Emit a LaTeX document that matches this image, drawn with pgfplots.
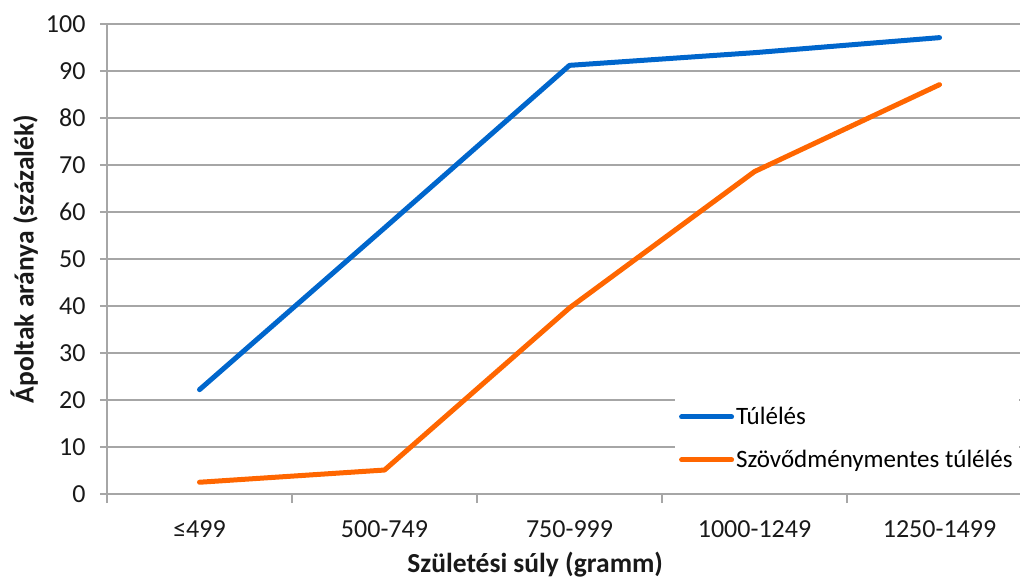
\documentclass[border=0pt]{standalone}
\usepackage{pgfplots}
\pgfplotsset{compat=1.18}
\usepackage{fontspec}
\setmainfont{Carlito}
\definecolor{gridgray}{RGB}{166,166,166}
\definecolor{sblue}{RGB}{0,102,204}
\definecolor{sorange}{RGB}{255,102,0}
\begin{document}
\begin{tikzpicture}
\useasboundingbox (-107pt,-87pt) rectangle (913pt,494pt);
\begin{axis}[
  at={(0pt,0pt)}, anchor=south west,
  scale only axis, width=913pt, height=470pt,
  xmin=-0.5, xmax=4.435, ymin=0, ymax=100,
  axis x line*=bottom, axis y line*=left,
  axis line style={gridgray, line width=1.8pt, -},
  xtick={0,1,2,3,4},
  xticklabels={≤499,500-749,750-999,1000-1249,1250-1499},
  major x tick style={draw=none},
  minor xtick={-0.5,0.5,1.5,2.5,3.5},
  minor x tick style={gridgray, line width=1.8pt},
  minor tick length=9pt,
  ytick={0,10,...,100},
  y tick style={gridgray, line width=1.8pt},
  major tick length=7pt,
  tick align=outside,
  ymajorgrids,
  grid style={gridgray, line width=1.8pt},
  /pgf/number format/assume math mode=true,
  tick label style={font=\fontsize{26}{30}\selectfont, text=black!90},
  xticklabel style={yshift=-16pt},
  yticklabel style={xshift=-11pt},
  xlabel={\textbf{Születési súly (gramm)}},
  ylabel={\textbf{Ápoltak aránya (százalék)}},
  label style={font=\fontsize{27.5}{32}\selectfont, text=black!90},
  xlabel style={at={(axis description cs:0.469,0)}, anchor=south, yshift=-87pt},
  ylabel style={at={(axis description cs:-0.1095,0.5)}, anchor=north},
  legend style={at={(0.622,0.212)}, anchor=north west, draw=none, fill=white,
    font=\fontsize{25}{29}\selectfont, row sep=20pt, inner xsep=4pt, inner ysep=11pt},
  legend cell align=left,
  legend image code/.code={\draw[#1, line width=5pt] (0pt,0pt) -- (50pt,0pt);},
  clip=false,
]
\addplot[sblue, line width=5pt, line cap=round, line join=round] coordinates {
  (0,22.2) (1,56.6) (2,91.2) (3,93.9) (4,97.1)
};
\addlegendentry{Túlélés}
\addplot[sorange, line width=5pt, line cap=round, line join=round] coordinates {
  (0,2.5) (1,5.1) (2,39.6) (3,68.6) (4,87.1)
};
\addlegendentry{Szövődménymentes túlélés}
\end{axis}
\end{tikzpicture}
\end{document}
